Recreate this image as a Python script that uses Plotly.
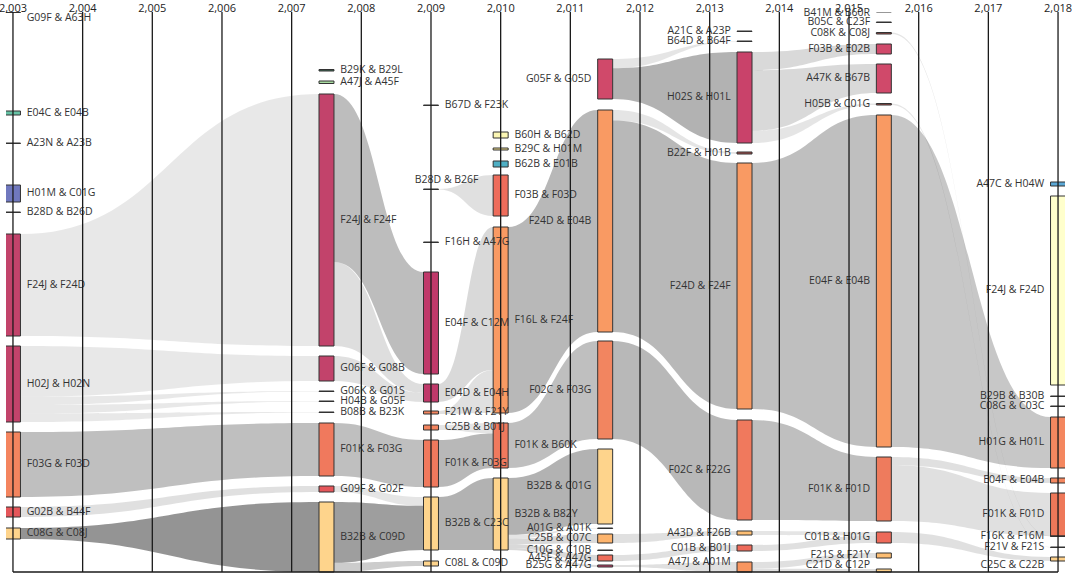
import plotly.graph_objects as go

# ---- nodes (one entry per patent-class pair and year) ----
node_labels = [
    "G09F & A63H", "E04C & E04B", "A23N & A23B", "H01M & C01G", "B28D & B26D",
    "F24J & F24D", "H02J & H02N", "F03G & F03D", "G02B & B44F", "C08G & C08J",
    "B29K & B29L", "A47J & A45F", "F24J & F24F", "G06F & G08B", "G06K & G01S",
    "H04B & G05F", "B08B & B23K", "F01K & F03G", "G09F & G02F", "B32B & C09D",
    "B67D & F23K", "B28D & B26F", "F16H & A47G", "E04F & C12M", "E04D & E04H",
    "F21W & F21Y", "C25B & B01J", "F01K & F03G", "B32B & C23C", "C08L & C09D",
    "B60H & B62D", "B29C & H01M", "B62B & E01B", "F03B & F03D", "F16L & F24F",
    "F01K & B60K", "B32B & B82Y",
    "G05F & G05D", "F24D & E04B", "F02C & F03G", "B32B & C01G", "A01G & A01K",
    "C25B & C07C", "C10G & C10B", "A45F & A47G", "B25G & A47G",
    "A21C & A23P", "B64D & B64F", "H02S & H01L", "B22F & H01B", "F24D & F24F",
    "F02C & F22G", "A43D & F26B", "C01B & B01J", "A47J & A01M",
    "B41M & B60R", "B05C & C23F", "C08K & C08J", "F03B & E02B", "A47K & B67B",
    "H05B & C01G", "E04F & E04B", "F01K & F01D", "C01B & H01G", "F21S & F21Y",
    "C21D & C12P",
    "A47C & H04W", "F24J & F24D", "B29B & B30B", "C08G & C03C", "H01G & H01L",
    "E04F & E04B", "F01K & F01D", "F16K & F16M", "F21V & F21S", "C25C & C22B",
]
node_year = (
    [2003] * 10 + [2007.5] * 10 + [2009] * 10 + [2010] * 7 + [2011.5] * 9
    + [2013.5] * 9 + [2015.5] * 11 + [2018] * 10
)
node_size = [
    0.5, 4, 0.5, 17, 0.5, 102, 76, 65, 10, 11,
    1.5, 2.5, 252, 25, 0.5, 0.5, 0.5, 53, 6, 70,
    0.5, 0.5, 0.5, 102, 18, 3, 5, 47, 53, 5,
    6, 2, 6, 41, 186, 45, 72,
    40, 222, 98, 75, 0.5, 9, 0.5, 6, 2,
    0.5, 0.5, 91, 2, 246, 100, 4, 6, 10,
    0.5, 0.5, 1.5, 10, 29, 1.5, 332, 64, 11, 5, 3,
    4, 189, 0.5, 0.5, 51, 5, 43, 0.5, 0.5, 4,
]

# ---- flows between nodes (indices into node_labels) ----
link_source = [5, 6, 6, 6, 6, 7, 8, 9,
               12, 12, 13, 17, 18, 19, 19,
               21, 24, 25, 26, 27, 28,
               34, 35, 36, 36, 36, 36, 36,
               37, 37, 38, 38, 39, 42, 44, 45,
               48, 48, 48, 50, 51, 52, 53, 54, 54,
               61, 62, 62, 57, 60, 63]
link_target = [12, 13, 14, 15, 16, 17, 18, 19,
               23, 24, 24, 27, 28, 28, 29,
               33, 34, 34, 35, 35, 36,
               38, 39, 40, 41, 42, 44, 45,
               47, 48, 49, 50, 51, 52, 53, 54,
               58, 59, 60, 61, 62, 63, 63, 64, 65,
               70, 71, 72, 73, 74, 75]
link_weight = [1, 3, 0.5, 0.5, 0.5, 1, 1, 1,
               2, 1, 1, 1, 0.2, 1, 0.15,
               1, 1, 0.3, 0.3, 1, 1,
               1, 1, 3, 0.2, 0.3, 0.2, 0.1,
               0.3, 1, 0.05, 1, 1, 1, 1, 1,
               0.3, 1, 0.2, 1, 1, 0.5, 1, 1, 0.5,
               1, 0.15, 1, 1, 1, 1]

# ---- styling / layout ----
THIN = "#333333"
node_color = [
    THIN, "#66C2A5", THIN, "#7078BE", THIN, "#C2436B", "#C2436B", "#F4855F", "#E5565A", "#FED48C",
    "#3F6B57", "#A8DBA0", "#C2436B", "#C2436B", THIN, THIN, THIN, "#F0795D", "#E5565A", "#FED48C",
    THIN, THIN, THIN, "#C0396A", "#C0396A", "#F4855F", "#F4855F", "#F0795D", "#FED48C", "#FED48C",
    "#FBF6B4", "#F3E08F", "#4FAFC4", "#EE6C5B", "#F99A63", "#F0795D", "#FED48C",
    "#D0496A", "#F99A63", "#F28560", "#FED48C", THIN, "#FDB46D", THIN, "#EF6E5B", "#C2436B",
    THIN, THIN, "#C9426A", "#A64F4C", "#F99A63", "#F0795D", "#FDBE73", "#EE6A5A", "#F89660",
    THIN, THIN, "#A64F4C", "#D0496A", "#D0496A", "#A64F4C", "#F99A63", "#EE7B5D", "#EE6A5A",
    "#FDBE73", "#FDD08A",
    "#5BA8D6", "#FFFFCC", THIN, THIN, "#F4875F", "#F4875F", "#EE7859", THIN, THIN, "#FDD08A",
]
node_top = [
    12, 111, 143, 185, 212, 234, 346, 432, 507, 528,
    69.5, 81, 94, 356, 391, 401, 412, 423, 486, 502,
    105, 189, 242, 272, 384, 411, 425, 440, 497, 561,
    132, 148, 161, 175, 227, 423, 478,
    59, 110, 341, 449, 528, 534, 550, 555, 565,
    31, 41, 52, 152, 163, 420, 531, 545, 562,
    11.5, 22, 32.5, 44, 64, 103.5, 115, 457, 532, 553, 569,
    182, 196, 396, 406, 417, 478, 493, 536, 547, 557,
]
link_alpha = [0.09, 0.09, 0.09, 0.09, 0.09, 0.25, 0.12, 0.42,
              0.26, 0.13, 0.12, 0.25, 0.1, 0.38, 0.2,
              0.12, 0.15, 0.12, 0.1, 0.28, 0.3,
              0.28, 0.25, 0.3, 0.1, 0.15, 0.15, 0.15,
              0.1, 0.3, 0.1, 0.28, 0.28, 0.12, 0.12, 0.12,
              0.15, 0.15, 0.1, 0.25, 0.25, 0.1, 0.12, 0.12, 0.12,
              0.22, 0.12, 0.12, 0.1, 0.1, 0.12]
# a few labels are nudged off their node centre (pixels: dx, dy)
label_nudge = {0: (0, 5), 21: (-30, -9), 75: (0, 6), 54: (0, -3)}

years = list(range(2003, 2019))
NODE_W = 0.215          # node thickness in years (~15 px)
LABEL_PAD = 0.09        # gap between node and label
Y_TOP, Y_BOT = 12, 574  # y axis in pixel-like units, top to bottom
LABEL_MIN, LABEL_MAX = 13, 565
PX_PER_YEAR = 1059 / 15.2
MID_YEAR = (years[0] + years[-1]) / 2

# stack the flows on each node in proportion to their weights
n = len(node_labels)
center = [node_top[i] + node_size[i] / 2 for i in range(n)]
out_tot = [0.0] * n
in_tot = [0.0] * n
for s, t, w in zip(link_source, link_target, link_weight):
    out_tot[s] += w
    in_tot[t] += w
out_cur = node_top[:]
in_cur = node_top[:]
src_slice = [None] * len(link_source)
tgt_slice = [None] * len(link_source)
for k in sorted(range(len(link_source)), key=lambda k: center[link_target[k]]):
    s = link_source[k]
    h = node_size[s] * link_weight[k] / out_tot[s]
    src_slice[k] = (out_cur[s], out_cur[s] + h)
    out_cur[s] += h
for k in sorted(range(len(link_source)), key=lambda k: center[link_source[k]]):
    t = link_target[k]
    h = node_size[t] * link_weight[k] / in_tot[t]
    tgt_slice[k] = (in_cur[t], in_cur[t] + h)
    in_cur[t] += h

shapes = []
for k in range(len(link_source)):
    s, t = link_source[k], link_target[k]
    xs = node_year[s] + NODE_W / 2
    xt = node_year[t] - NODE_W / 2
    xm = (xs + xt) / 2
    (s0, s1), (t0, t1) = src_slice[k], tgt_slice[k]
    path = (f"M {xs},{s0} C {xm},{s0} {xm},{t0} {xt},{t0} L {xt},{t1} "
            f"C {xm},{t1} {xm},{s1} {xs},{s1} Z")
    shapes.append(dict(type="path", path=path, xref="x", yref="y", layer="below",
                       fillcolor=f"rgba(0,0,0,{link_alpha[k]})", line=dict(width=0)))

fig = go.Figure()
fig.add_trace(go.Bar(
    x=node_year, y=node_size, base=node_top, width=NODE_W,
    marker=dict(color=node_color, line=dict(color="#333333", width=1)),
    hovertext=node_labels, hoverinfo="text", cliponaxis=False,
))

label_x, label_y = [], []
for i in range(n):
    dx, dy = label_nudge.get(i, (0, 0))
    side = 1 if node_year[i] < MID_YEAR else -1
    label_x.append(node_year[i] + side * (NODE_W / 2 + LABEL_PAD) + dx / PX_PER_YEAR)
    label_y.append(min(max(center[i], LABEL_MIN), LABEL_MAX) + dy)

left_side = [i for i in range(n) if node_year[i] < MID_YEAR]
right_side = [i for i in range(n) if node_year[i] >= MID_YEAR]
lab_font = dict(family="Open Sans", size=10.5, color="#333333")
for idx, pos in ((left_side, "middle right"), (right_side, "middle left")):
    fig.add_trace(go.Scatter(
        x=[label_x[i] for i in idx], y=[label_y[i] for i in idx],
        text=[node_labels[i] for i in idx],
        mode="text", textposition=pos, textfont=lab_font, hoverinfo="skip",
        cliponaxis=False,
    ))

# year grid lines drawn above everything, plus the baseline
gx, gy = [], []
for yr in years:
    gx += [yr, yr, None]
    gy += [Y_TOP - 1, Y_BOT - 2, None]
gx += [years[0], years[-1]]
gy += [Y_BOT - 2, Y_BOT - 2]
fig.add_trace(go.Scatter(x=gx, y=gy, mode="lines", line=dict(color="#1a1a1a", width=1.3),
                         hoverinfo="skip", cliponaxis=False))

fig.update_layout(
    width=1072, height=574,
    margin=dict(l=6, r=7, t=Y_TOP, b=0, autoexpand=False),
    paper_bgcolor="white", plot_bgcolor="white",
    showlegend=False, shapes=shapes,
    xaxis=dict(range=[2002.9, 2018.1], side="top", tickvals=years, tickformat=",",
               showgrid=False, zeroline=False, showline=False, ticks="",
               automargin=False, ticklabeloverflow="allow", ticklabelstandoff=-3,
               tickfont=dict(family="Open Sans", size=11, color="#222222")),
    yaxis=dict(range=[Y_BOT, Y_TOP], visible=False, showgrid=False, zeroline=False,
               automargin=False),
)

# the page body has a default 8px margin; drop it so the figure sits at the corner
fig.write_html("out.html", config={"displayModeBar": False},
               post_script="document.body.style.margin='0px';")
